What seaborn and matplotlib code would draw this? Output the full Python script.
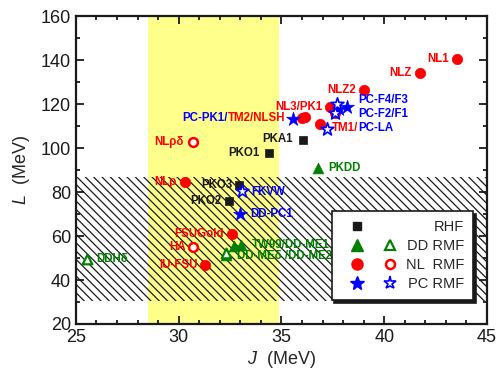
import seaborn as sns
import matplotlib.pyplot as plt
from matplotlib.lines import Line2D
from matplotlib.legend_handler import HandlerTuple
from matplotlib.ticker import MultipleLocator

# RHF
rhf_names = ['PKO1', 'PKO2', 'PKO3', 'PKA1']
rhf_J = [34.39, 32.46, 32.92, 36.05]
rhf_L = [97.7, 75.9, 83.3, 103.6]

# DD RMF (cheio / vazio)
dd_names = ['PKDD', 'TW99', 'DD-ME1', 'DD-ME2']
dd_J = [36.79, 32.7, 33.05, 32.3]
dd_L = [90.8, 55.6, 55.9, 51.3]
ddo_names = ['DD-MEδ', 'DDHδ']
ddo_J = [32.3, 25.55]
ddo_L = [52.3, 49.4]

# NL RMF
nl_names = ['NL1', 'NLZ', 'NLZ2', 'NL3', 'PK1', 'TM2', 'NLSH', 'TM1', 'NLρ', 'FSUGold', 'IU-FSU']
nl_J = [43.55, 41.74, 39.0, 37.36, 37.6, 35.98, 36.14, 36.9, 30.29, 32.58, 31.26]
nl_L = [140.3, 134.2, 126.4, 118.8, 115.9, 113.5, 114.0, 111.0, 84.5, 60.8, 47.0]
nlo_names = ['NLρδ', 'HA']
nlo_J = [30.68, 30.68]
nlo_L = [102.9, 55.0]

# PC RMF
pc_names = ['PC-PK1', 'PC-F1', 'PC-F3', 'DD-PC1']
pc_J = [35.57, 37.81, 38.2, 32.98]
pc_L = [113.2, 117.6, 118.8, 70.1]
pco_names = ['PC-F2', 'PC-F4', 'PC-LA', 'FKVW']
pco_J = [37.6, 37.72, 37.23, 33.06]
pco_L = [115.8, 119.9, 108.5, 80.6]

# faixas de restrição
J_band = [28.5, 34.9]
L_band = [30.6, 86.8]

RED, BLUE, GREEN = '#FF0000', '#0000FF', '#008000'

sns.set_theme(style='ticks')
plt.rcParams['font.family'] = ['Liberation Sans', 'DejaVu Sans']
plt.rcParams['mathtext.fontset'] = 'custom'
plt.rcParams['mathtext.it'] = 'Liberation Sans:italic'
plt.rcParams['hatch.linewidth'] = 0.9

fig, ax = plt.subplots(figsize=(4.99, 3.75), dpi=100)
fig.subplots_adjust(left=0.152, right=0.976, bottom=0.136, top=0.957)

ax.axvspan(J_band[0], J_band[1], color='#FFFF8C', lw=0, zorder=0)
ax.fill_between([25, 45], L_band[0], L_band[1], facecolor='none', edgecolor='k',
                hatch='\\\\\\\\', lw=0, zorder=1)

sns.scatterplot(x=rhf_J, y=rhf_L, marker='s', color='k', edgecolor='k', s=32, lw=0.5, ax=ax, zorder=3)
sns.scatterplot(x=nl_J, y=nl_L, marker='o', color=RED, edgecolor=RED, s=56, lw=0.5, ax=ax, zorder=3)
sns.scatterplot(x=nlo_J, y=nlo_L, marker='o', color='white', edgecolor=RED, s=40, lw=1.8, ax=ax, zorder=3)
sns.scatterplot(x=pc_J, y=pc_L, marker='*', color=BLUE, edgecolor=BLUE, s=110, lw=0.5, ax=ax, zorder=4)
sns.scatterplot(x=pco_J, y=pco_L, marker='*', color='white', edgecolor=BLUE, s=95, lw=1.2, ax=ax, zorder=4)
sns.scatterplot(x=dd_J, y=dd_L, marker='^', color=GREEN, edgecolor=GREEN, s=60, lw=0.5, ax=ax, zorder=3)
sns.scatterplot(x=ddo_J, y=ddo_L, marker='^', color='white', edgecolor=GREEN, s=48, lw=1.6, ax=ax, zorder=3)

pos = {}
for names, js, ls in [(rhf_names, rhf_J, rhf_L), (dd_names, dd_J, dd_L), (ddo_names, ddo_J, ddo_L),
                      (nl_names, nl_J, nl_L), (nlo_names, nlo_J, nlo_L),
                      (pc_names, pc_J, pc_L), (pco_names, pco_J, pco_L)]:
    for n, j, l in zip(names, js, ls):
        pos[n] = (j, l)

# rótulos: ponto âncora, partes (texto, cor), deslocamento em pixels, alinhamento
labels = [
    ('NL1', [('NL1', RED)], -8, 0, 'right'),
    ('NLZ', [('NLZ', RED)], -8, 0, 'right'),
    ('NLZ2', [('NLZ2', RED)], -8, 0, 'right'),
    ('NL3', [('NL3/PK1', RED)], -7, 0, 'right'),
    ('PC-PK1', [('PC-PK1/', BLUE), ('TM2/NLSH', RED)], -8, 1, 'right'),
    ('TM1', [('TM1/', RED), ('PC-LA', BLUE)], 11, -4, 'left'),
    ('PC-F3', [('PC-F4/F3', BLUE)], 11, 7, 'left'),
    ('PC-F3', [('PC-F2/F1', BLUE)], 11, -7, 'left'),
    ('PKA1', [('PKA1', 'k')], -10, 1, 'right'),
    ('PKO1', [('PKO1', 'k')], -9, 0, 'right'),
    ('PKDD', [('PKDD', GREEN)], 10, 0, 'left'),
    ('NLρδ', [('NLρδ', RED)], -9, 0, 'right'),
    ('NLρ', [('NLρ', RED)], -8, 0, 'right'),
    ('PKO3', [('PKO3', 'k')], -6, 0, 'right'),
    ('FKVW', [('FKVW', BLUE)], 10, -1, 'left'),
    ('PKO2', [('PKO2', 'k')], -8, 0, 'right'),
    ('DD-PC1', [('DD-PC1', BLUE)], 10, 0, 'left'),
    ('FSUGold', [('FSUGold', RED)], -8, 0, 'right'),
    ('HA', [('HA', RED)], -7, 0, 'right'),
    ('IU-FSU', [('IU-FSU', RED)], -7, 0, 'right'),
    ('DDHδ', [('DDHδ', GREEN)], 9, 0, 'left'),
    ('DD-ME1', [('TW99/DD-ME1', GREEN)], 11, 0, 'left'),
    ('DD-MEδ', [('DD-MEδ /DD-ME2', GREEN)], 11, -3, 'left'),
]
for anchor, parts, dx, dy, ha in labels:
    seq = parts if ha == 'left' else parts[::-1]
    prev = None
    for txt, col in seq:
        if prev is None:
            prev = ax.annotate(txt, pos[anchor], xytext=(dx, dy), textcoords='offset pixels',
                               ha=ha, va='center', color=col, fontsize=8.3,
                               fontweight='bold', zorder=5)
        else:
            prev = ax.annotate(txt, (1 if ha == 'left' else 0, 0), xycoords=prev,
                               ha=ha, va='bottom', color=col, fontsize=8.3,
                               fontweight='bold', zorder=5)

ax.set_xlim(25, 45)
ax.set_ylim(20, 160)
ax.xaxis.set_major_locator(MultipleLocator(5))
ax.xaxis.set_minor_locator(MultipleLocator(1))
ax.yaxis.set_major_locator(MultipleLocator(20))
ax.yaxis.set_minor_locator(MultipleLocator(10))
ax.tick_params(which='both', direction='in', top=True, right=True, width=1.3, colors='k',
               labelsize=13)
ax.tick_params(which='major', length=5.5)
ax.tick_params(which='minor', length=3)
for sp in ax.spines.values():
    sp.set_linewidth(1.6)
    sp.set_color('k')
ax.set_xlabel('$J$  (MeV)', fontsize=13, labelpad=2)
ax.set_ylabel('$L$  (MeV)', fontsize=13, labelpad=6)

# legenda
blank = Line2D([], [], ls='none')
h_rhf = Line2D([], [], ls='none', marker='s', color='k', ms=6)
h_ddf = Line2D([], [], ls='none', marker='^', color=GREEN, ms=8.5)
h_ddo = Line2D([], [], ls='none', marker='^', mfc='white', mec=GREEN, mew=1.6, ms=7.5)
h_nlf = Line2D([], [], ls='none', marker='o', color=RED, ms=8)
h_nlo = Line2D([], [], ls='none', marker='o', mfc='white', mec=RED, mew=1.8, ms=6.5)
h_pcf = Line2D([], [], ls='none', marker='*', color=BLUE, ms=10)
h_pco = Line2D([], [], ls='none', marker='*', mfc='white', mec=BLUE, mew=1.2, ms=9.5)
leg = ax.legend([(h_rhf, blank), (h_ddf, h_ddo), (h_nlf, h_nlo), (h_pcf, h_pco)],
                ['RHF', 'DD RMF', 'NL  RMF', 'PC RMF'],
                handler_map={tuple: HandlerTuple(ndivide=None, pad=0)},
                loc='lower right', bbox_to_anchor=(0.966, 0.078), fancybox=False,
                shadow={'color': 'k', 'alpha': 1}, edgecolor='k', framealpha=1,
                handlelength=4.5, handletextpad=0.0, borderpad=0.6, labelspacing=0.35,
                borderaxespad=0, fontsize=10.5)
leg.get_frame().set_linewidth(1.2)
leg.set_zorder(6)

fig.canvas.draw()
r = fig.canvas.get_renderer()
ws = [t.get_window_extent(r).width for t in leg.get_texts()]
for t, w in zip(leg.get_texts(), ws):
    t.set_position((max(ws) - w, 0))

plt.savefig('out.png', dpi=100)
